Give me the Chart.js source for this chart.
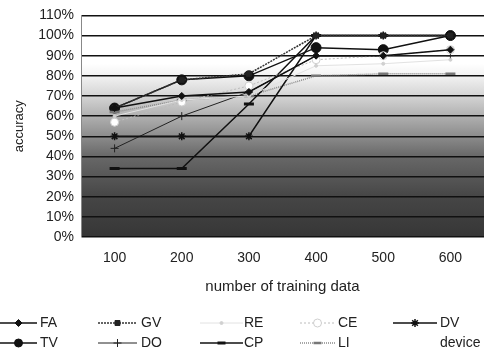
<!DOCTYPE html>
<html>
<head>
<meta charset="utf-8">
<script src="https://cdn.jsdelivr.net/npm/chart.js@4.4.0/dist/chart.umd.min.js"></script>
<style>
  html, body { margin: 0; padding: 0; background: #fff; }
  #wrap { width: 492px; height: 360px; position: relative; }
</style>
</head>
<body>
<div id="wrap"><canvas id="accChart" width="492" height="360"></canvas></div>
<script>
// categories and tick labels
const categories = ['100', '200', '300', '400', '500', '600'];
const yTickLabels = ['0%', '10%', '20%', '30%', '40%', '50%', '60%', '70%', '80%', '90%', '100%', '110%'];

// series values (accuracy %)
const faValues = [64, 70, 72, 90, 90, 93];
const gvValues = [64, 78, 81, 100, 100, 100];
const reValues = [60, 68, 70, 85, 86, 88];
const ceValues = [57, 67, 75, 88, 90, 93];
const dvValues = [50, 50, 50, 100, 100, 100];
const tvValues = [64, 78, 80, 94, 93, 100];
const doValues = [44, 60, 72, 90, 90, 90];
const cpValues = [34, 34, 66, 100, 100, 100];
const liValues = [62, 68, 70, 80, 81, 81];
const deviceValues = [];

const FONT = '"Liberation Sans", Arial, sans-serif';

// background shading from white (top) to dark grey (bottom)
const shadePlugin = {
    id: 'shade',
    beforeDraw(chart) {
        const { ctx, chartArea: a, scales: { y } } = chart;
        const g = ctx.createLinearGradient(0, y.getPixelForValue(0), 0, y.getPixelForValue(110));
        const stop = (v, c) => g.addColorStop(v / 110, c);
        stop(0, '#363636');
        stop(20, '#464646');
        stop(40, '#686868');
        stop(55, '#9e9e9e');
        stop(70, '#d4d4d4');
        stop(80, '#f2f2f2');
        stop(86, '#ffffff');
        stop(110, '#ffffff');
        ctx.save();
        ctx.fillStyle = g;
        ctx.fillRect(a.left, a.top, a.right - a.left, a.bottom - a.top);
        ctx.restore();
    }
};

// legend in a fixed 5 x 2 grid under the chart
const gridLegend = {
    id: 'gridLegend',
    afterDraw(chart) {
        const ctx = chart.ctx;
        const lineStart = [0, 98, 200, 300, 393];
        const lineEnd = [37, 137, 243, 335, 437];
        const textX = [40, 141, 244, 338, 440];
        const rowY = [323, 343];
        chart.data.datasets.forEach((ds, i) => {
            const col = i % 5, row = Math.floor(i / 5);
            const y = rowY[row];
            ctx.save();
            if (ds.showLine !== false && ds.data.length) {
                ctx.strokeStyle = ds.borderColor;
                ctx.lineWidth = ds.borderWidth;
                ctx.setLineDash(ds.borderDash || []);
                ctx.beginPath();
                ctx.moveTo(lineStart[col], y);
                ctx.lineTo(lineEnd[col], y);
                ctx.stroke();
                ctx.setLineDash([]);
                if (ds.pointRadius > 0 && Chart.helpers && Chart.helpers.drawPoint) {
                    ctx.fillStyle = ds.pointBackgroundColor;
                    ctx.strokeStyle = ds.pointBorderColor;
                    ctx.lineWidth = ds.pointBorderWidth;
                    Chart.helpers.drawPoint(ctx, {
                        pointStyle: ds.pointStyle,
                        radius: Math.min(ds.pointRadius, 4),
                        rotation: 0,
                        borderWidth: ds.pointBorderWidth
                    }, (lineStart[col] + lineEnd[col]) / 2, y);
                }
            }
            ctx.fillStyle = '#222';
            ctx.font = '14px ' + FONT;
            ctx.textBaseline = 'middle';
            ctx.fillText(ds.label, textX[col], y);
            ctx.restore();
        });
    }
};

function series(label, data, o) {
    return Object.assign({
        label: label,
        data: data,
        borderColor: '#111',
        borderWidth: 1.5,
        borderDash: [],
        pointStyle: 'circle',
        pointRadius: 3.5,
        pointBackgroundColor: '#111',
        pointBorderColor: '#111',
        pointBorderWidth: 1,
        tension: 0,
        fill: false,
        order: 0
    }, o || {});
}

const datasets = [
    series('FA', faValues, { pointStyle: 'rectRot', pointRadius: 3.5 }),
    series('GV', gvValues, { borderColor: '#333', borderDash: [2, 1], pointStyle: 'rect', pointRadius: 3.5, pointBackgroundColor: '#222', pointBorderColor: '#222' }),
    series('RE', reValues, { borderColor: '#e2e2e2', borderWidth: 1, pointRadius: 1.5, pointBackgroundColor: '#d0d0d0', pointBorderColor: '#d0d0d0' }),
    series('CE', ceValues, { borderColor: '#bcbcbc', borderWidth: 1, borderDash: [2, 2], pointRadius: 4, pointBackgroundColor: '#ffffff', pointBorderColor: '#cfcfcf' }),
    series('DV', dvValues, { pointStyle: 'star', pointRadius: 4, pointBorderWidth: 1.5 }),
    series('TV', tvValues, { pointRadius: 5, order: 1 }),
    series('DO', doValues, { borderColor: '#222', borderWidth: 1, pointStyle: 'cross', pointRadius: 4, pointBorderColor: '#222' }),
    series('CP', cpValues, { pointStyle: 'line', pointRadius: 5, pointBorderWidth: 3 }),
    series('LI', liValues, { borderColor: '#8a8a8a', borderDash: [1, 1], pointStyle: 'line', pointRadius: 5, pointBorderColor: '#777', pointBorderWidth: 2.5 }),
    series('device', deviceValues, { showLine: false, pointRadius: 0 })
];

const chart = new Chart(document.getElementById('accChart'), {
    type: 'line',
    data: { labels: categories, datasets: datasets },
    options: {
        responsive: false,
        animation: false,
        layout: { padding: { top: 12, right: 3, bottom: 63, left: 0 } },
        plugins: { legend: { display: false }, tooltip: { enabled: false } },
        scales: {
            x: {
                offset: true,
                grid: { display: false, drawTicks: false },
                border: { display: false },
                ticks: { color: '#222', font: { family: FONT, size: 14 }, padding: 13 },
                title: { display: true, text: 'number of training data', color: '#222', font: { family: FONT, size: 15 }, padding: { top: 0, bottom: 1 } },
                afterFit(scale) { scale.height = 60; }
            },
            y: {
                min: 0,
                max: 110,
                ticks: {
                    stepSize: 10,
                    color: '#222',
                    font: { family: FONT, size: 14 },
                    padding: 7,
                    callback: (v) => yTickLabels[Math.round(v / 10)]
                },
                grid: { color: '#111', lineWidth: 1.5, drawTicks: false },
                border: { display: true, color: '#888', width: 1 },
                title: { display: true, text: 'accuracy', color: '#222', font: { family: FONT, size: 13 }, padding: { top: 12, bottom: 0 } },
                afterFit(scale) { scale.width = 81; }
            }
        }
    },
    plugins: [shadePlugin, gridLegend]
});
</script>
</body>
</html>
